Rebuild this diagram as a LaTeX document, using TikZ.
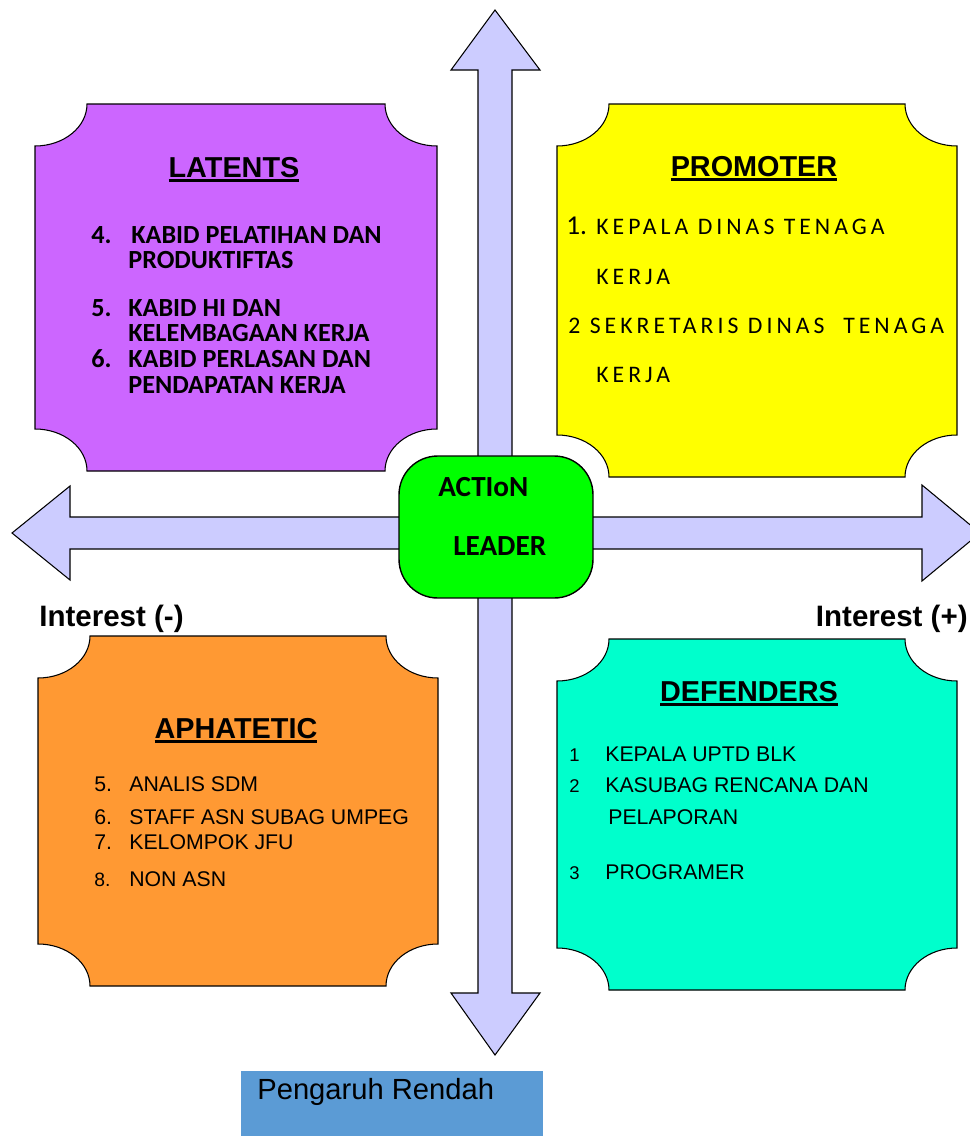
\documentclass[tikz,border=0pt]{standalone}
\usepackage{fontspec}
\setmainfont{Liberation Sans}
\newfontfamily\calibri{Carlito}
\newfontfamily\calibrisp[LetterSpace=17]{Carlito}
\usetikzlibrary{arrows.meta,positioning}
\definecolor{lavender}{HTML}{CCCCFF}
\definecolor{latentfill}{HTML}{CC66FF}
\definecolor{promofill}{HTML}{FFFF00}
\definecolor{aphafill}{HTML}{FF9933}
\definecolor{defendfill}{HTML}{00FFCC}
\definecolor{actionfill}{HTML}{00FF00}
\definecolor{lowfill}{HTML}{5B9BD5}
% plaque box: x1, y1, x2, y2, fill
\newcommand\plaque[5]{\filldraw[plaqueline,fill=#5] (#1+52,#2) -- (#3-52,#2) arc[start angle=180,end angle=90,x radius=52,y radius=42] -- (#3,#4-42) arc[start angle=270,end angle=180,x radius=52,y radius=42] -- (#1+52,#4) arc[start angle=0,end angle=-90,x radius=52,y radius=42] -- (#1,#2+42) arc[start angle=90,end angle=0,x radius=52,y radius=42] -- cycle;}
\newcommand\undertitle[1]{\setbox0\hbox{#1}\rlap{\rule[-2.6pt]{\wd0}{1.4pt}}\box0}
\begin{document}
\begin{tikzpicture}[x=0.02cm,y=-0.02cm,arrowbody/.style={draw=black,line width=0.6pt,fill=lavender},plaqueline/.style={draw=black,line width=0.6pt},title/.style={anchor=base,inner sep=0,font=\fontsize{16.4}{18}\selectfont\bfseries},itemb/.style={anchor=base west,inner sep=0,font=\calibri\fontsize{14.9}{16}\selectfont\bfseries},itemsp/.style={anchor=base west,inner sep=0,font=\calibrisp\fontsize{13.5}{15}\selectfont},itema/.style={anchor=base west,inner sep=0,font=\fontsize{12.1}{14}\selectfont},bigtext/.style={anchor=base west,inner sep=0,font=\fontsize{16.6}{18}\selectfont}]
\useasboundingbox (0,0) rectangle (970,1136);
% axes
\filldraw[arrowbody] (12,533) -- (70,486) -- (70,517) -- (922,517) -- (922,485) -- (980,533) -- (922,581) -- (922,549) -- (70,549) -- (70,580) -- cycle;
\filldraw[arrowbody] (495,10) -- (540,70) -- (512,70) -- (512,993) -- (540,993) -- (495,1055) -- (451,993) -- (478,993) -- (478,70) -- (451,70) -- cycle;
% quadrants
\plaque{35}{104}{437}{471}{latentfill}
\plaque{557}{104}{957}{477}{promofill}
\plaque{38}{636}{438}{986}{aphafill}
\plaque{557}{639}{957}{990}{defendfill}
\node[draw=black,line width=0.8pt,fill=actionfill,rounded corners=22pt,minimum width=3.88cm,minimum height=2.84cm] (act) at (496,527) {};
\node[bigtext,font=\calibri\fontsize{16.6}{18}\selectfont\bfseries] (action) at (438,496) {ACTIoN};
\node[bigtext,font=\calibri\fontsize{16.6}{18}\selectfont\bfseries] (leader) at (453,555) {LEADER};
% LATENTS
\node[title] (latents) at (234,177) {\undertitle{LATENTS}};
\node[itemb] (l4) at (91,243) {4.};
\node[itemb] (l4a) at (131,243) {KABID PELATIHAN DAN};
\node[itemb] (l4b) at (128,268) {PRODUKTIFTAS};
\node[itemb] (l5) at (91,316) {5.};
\node[itemb] (l5a) at (128,316) {KABID HI DAN};
\node[itemb] (l5b) at (128,341) {KELEMBAGAAN KERJA};
\node[itemb] (l6) at (91,367) {6.};
\node[itemb] (l6a) at (128,367) {KABID PERLASAN DAN};
\node[itemb] (l6b) at (128,393) {PENDAPATAN KERJA};
% PROMOTER
\node[title] (promoter) at (754,176) {\undertitle{PROMOTER}};
\node[itemsp,font=\calibri\fontsize{15.5}{16}\selectfont] (p1) at (566,234) {1.};
\node[itemsp] (p1a) at (596,234) {KEPALA DINAS TENAGA};
\node[itemsp] (p1b) at (596,284) {KERJA};
\node[itemsp] (p2) at (568,333) {2 SEKRETARIS DINAS\ \ TENAGA};
\node[itemsp] (p2b) at (596,382) {KERJA};
% APHATETIC
\node[title] (aphatetic) at (236,738) {\undertitle{APHATETIC}};
\node[itema] (a5) at (94,791) {5.};
\node[itema] (a5a) at (129,791) {ANALIS SDM};
\node[itema] (a6) at (94,824) {6.};
\node[itema] (a6a) at (129,824) {STAFF ASN SUBAG UMPEG};
\node[itema] (a7) at (94,849) {7.};
\node[itema] (a7a) at (129,849) {KELOMPOK JFU};
\node[itema,font=\fontsize{11}{14}\selectfont] (a8) at (94,886) {8.};
\node[itema] (a8a) at (129,886) {NON ASN};
% DEFENDERS
\node[title] (defenders) at (749,701) {\undertitle{DEFENDERS}};
\node[itema,font=\fontsize{10.5}{14}\selectfont] (d1) at (569,761) {1};
\node[itema] (d1a) at (605,761) {KEPALA UPTD BLK};
\node[itema,font=\fontsize{10.5}{14}\selectfont] (d2) at (569,792) {2};
\node[itema] (d2a) at (605,792) {KASUBAG RENCANA DAN};
\node[itema] (d2b) at (608,824) {PELAPORAN};
\node[itema,font=\fontsize{10.5}{14}\selectfont] (d3) at (569,879) {3};
\node[itema] (d3a) at (605,879) {PROGRAMER};
% labels
\node[bigtext,font=\fontsize{16.8}{18}\selectfont\bfseries] (intneg) at (39,626) {Interest (-)};
\node[bigtext,anchor=base east,font=\fontsize{16.8}{18}\selectfont\bfseries] (intpos) at (968,626) {Interest (+)};
\node[fill=lowfill,minimum width=6.04cm,minimum height=1.3cm,inner sep=0] (low) at (392,1103.5) {};
\node[bigtext] (lowtext) at (257,1099) {Pengaruh Rendah};
\end{tikzpicture}
\end{document}
